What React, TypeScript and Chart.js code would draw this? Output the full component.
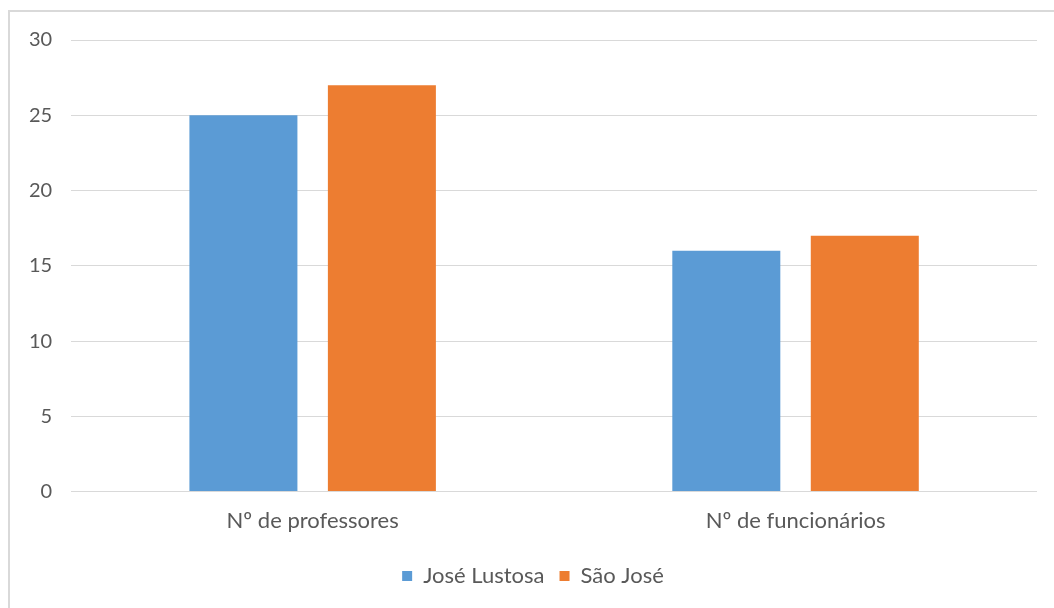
import React, { useEffect, useRef } from "react";
import { Chart, registerables } from "chart.js";

Chart.register(...registerables);

const categories = ["Nº de professores", "Nº de funcionários"];
const joseLustosa = [25, 16];
const saoJose = [27, 17];
const seriesNames = ["José Lustosa", "São José"];
const yMin = 0;
const yMax = 30;
const yStep = 5;

const FONT = "Lato, 'Open Sans', sans-serif";

export default function App() {
  const ref = useRef<HTMLCanvasElement | null>(null);
  useEffect(() => {
    if (!ref.current) return;
    const chart = new Chart(ref.current, {
      type: "bar",
      data: {
        labels: categories,
        datasets: [
          {
            label: seriesNames[0],
            data: joseLustosa,
            backgroundColor: "#5B9BD5",
            categoryPercentage: 0.5735,
            barPercentage: 0.78,
          },
          {
            label: seriesNames[1],
            data: saoJose,
            backgroundColor: "#ED7D31",
            categoryPercentage: 0.5735,
            barPercentage: 0.78,
          },
        ],
      },
      options: {
        animation: false,
        responsive: false,
        maintainAspectRatio: false,
        layout: { padding: { left: 19, right: 17, top: 28, bottom: 11 } },
        plugins: {
          tooltip: { enabled: false },
          legend: {
            position: "bottom",
            labels: {
              boxWidth: 10,
              boxHeight: 10,
              color: "#595959",
              font: { family: FONT, size: 22 },
              padding: 15,
            },
          },
        },
        scales: {
          x: {
            grid: { display: false, drawTicks: false },
            border: { display: false },
            ticks: {
              color: "#595959",
              font: { family: FONT, size: 22 },
              padding: 16,
            },
          },
          y: {
            min: yMin,
            max: yMax,
            ticks: {
              stepSize: yStep,
              color: "#595959",
              font: { family: FONT, size: 20 },
              padding: 0,
            },
            grid: {
              color: "#d9d9d9",
              lineWidth: 1,
              drawTicks: true,
              tickLength: 19,
              tickColor: "rgba(0,0,0,0)",
            },
            border: { display: false },
          },
        },
      },
    });
    return () => chart.destroy();
  }, []);
  return (
    <div
      style={{
        position: "fixed",
        left: 8,
        top: 10,
        width: 1100,
        height: 650,
        border: "2px solid #d9d9d9",
        background: "#fff",
        boxSizing: "border-box",
      }}
    >
      <canvas ref={ref} width={1044} height={596} style={{ display: "block" }} />
    </div>
  );
}
